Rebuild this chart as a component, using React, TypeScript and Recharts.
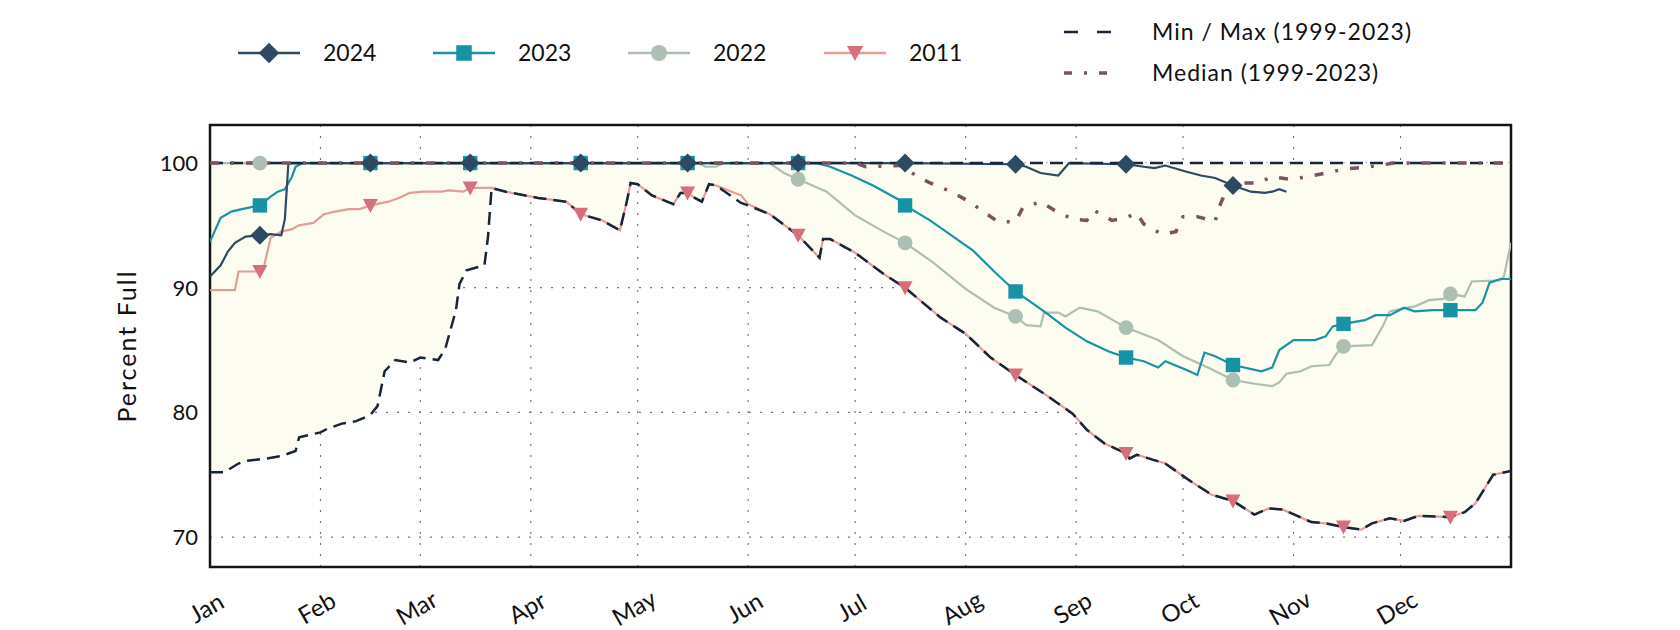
import React from 'react';
import { ComposedChart, Line, Area, XAxis, YAxis, CartesianGrid, ReferenceArea } from 'recharts';

// day-of-year (0 = Jan 1) for month starts and the mid-month marker days
const monthTicks = [0, 31, 59, 90, 120, 151, 181, 212, 243, 273, 304, 334];
const monthLabels = ['Jan', 'Feb', 'Mar', 'Apr', 'May', 'Jun', 'Jul', 'Aug', 'Sep', 'Oct', 'Nov', 'Dec'];
const markerDays = [14, 45, 73, 104, 134, 165, 195, 226, 257, 287, 318, 348];
const yTicks = [70, 80, 90, 100];

const days2024 = [0, 3, 5, 7, 10, 14, 17, 20, 21, 22, 45, 73, 104, 134, 165, 195, 226, 229, 233, 238, 241, 257, 262, 265, 268, 274, 278, 282, 287, 292, 296, 298, 300, 302];
const pct2024 = [90.9, 91.8, 92.9, 93.6, 94.1, 94.2, 94.3, 94.2, 95.5, 100, 100, 100, 100, 100, 100, 100, 99.9, 99.7, 99.2, 99.0, 100, 99.9, 99.7, 99.6, 99.8, 99.3, 99.0, 98.8, 98.2, 97.7, 97.6, 97.7, 97.9, 97.7];

const days2023 = [0, 3, 6, 9, 14, 17, 19, 21, 23, 24, 26, 45, 73, 104, 134, 165, 170, 174, 180, 186, 193, 195, 202, 208, 214, 220, 226, 234, 240, 246, 252, 257, 262, 266, 268, 274, 277, 279, 282, 287, 295, 298, 300, 304, 310, 313, 315, 318, 324, 327, 331, 335, 338, 343, 348, 355, 357, 359, 362, 365];
const pct2023 = [93.7, 95.6, 96.1, 96.3, 96.6, 97.3, 97.7, 97.9, 98.9, 99.7, 100, 100, 100, 100, 100, 100, 100, 99.7, 99.0, 98.2, 97.1, 96.6, 95.4, 94.2, 93.0, 91.3, 89.7, 88.1, 86.8, 85.7, 84.9, 84.4, 84.1, 83.6, 84.1, 83.4, 83.0, 84.8, 84.5, 83.8, 83.3, 83.6, 85.0, 85.8, 85.8, 86.1, 86.9, 87.1, 87.4, 87.8, 87.8, 88.4, 88.1, 88.2, 88.2, 88.2, 88.8, 90.4, 90.7, 90.7];

const days2022 = [0, 14, 45, 73, 104, 134, 137, 139, 142, 144, 157, 161, 165, 173, 181, 189, 195, 203, 212, 220, 226, 229, 233, 234, 238, 240, 244, 249, 257, 266, 273, 280, 287, 293, 298, 300, 302, 306, 309, 314, 316, 318, 326, 329, 331, 334, 338, 342, 346, 348, 352, 354, 362, 363, 365];
const pct2022 = [100, 100, 100, 100, 100, 100, 100, 99.7, 99.7, 100, 100, 99.2, 98.7, 97.7, 95.8, 94.5, 93.6, 92.0, 89.9, 88.4, 87.7, 87.0, 86.9, 88.0, 88.0, 87.7, 88.4, 88.1, 86.8, 85.8, 84.5, 83.6, 82.6, 82.3, 82.1, 82.4, 83.1, 83.3, 83.7, 83.8, 84.7, 85.3, 85.4, 86.9, 88.1, 88.3, 88.5, 89.0, 89.1, 89.5, 89.3, 90.5, 90.6, 90.9, 93.6];

const days2011 = [0, 7, 8, 14, 15, 17, 20, 23, 25, 29, 32, 35, 39, 42, 45, 50, 53, 56, 60, 65, 67, 71, 73, 79, 83, 92, 100, 102, 104, 110, 115, 117, 118, 120, 124, 130, 132, 134, 136, 138, 140, 142, 149, 151, 157, 165, 171, 172, 174, 181, 189, 195, 205, 212, 219, 226, 234, 242, 246, 251, 257, 258, 260, 268, 275, 281, 287, 293, 297, 301, 309, 313, 318, 323, 326, 331, 335, 339, 348, 352, 355, 360, 365];
const pct2011 = [89.8, 89.8, 91.3, 91.3, 91.5, 94.0, 94.5, 94.7, 95.0, 95.2, 95.9, 96.1, 96.3, 96.3, 96.6, 96.9, 97.2, 97.6, 97.7, 97.7, 97.8, 97.7, 98.0, 98.0, 97.7, 97.2, 96.9, 96.4, 95.9, 95.4, 94.6, 97.0, 98.4, 98.3, 97.4, 96.7, 97.6, 97.6, 97.2, 96.9, 98.3, 98.2, 97.4, 96.7, 95.9, 94.2, 92.4, 93.9, 93.9, 92.8, 91.1, 90.0, 87.6, 86.3, 84.4, 83.0, 81.5, 79.9, 78.6, 77.5, 76.7, 76.3, 76.6, 75.9, 74.5, 73.4, 72.9, 71.8, 72.3, 72.2, 71.2, 71.1, 70.8, 70.6, 71.1, 71.5, 71.3, 71.7, 71.6, 72.0, 72.7, 75.0, 75.3];

// 1999-2023 envelope
const daysMin = [0, 4, 8, 10, 16, 20, 24, 25, 28, 31, 33, 37, 41, 45, 47, 48, 49, 52, 56, 59, 64, 66, 69, 70, 72, 77, 78, 79, 83, 92, 100, 102, 104, 110, 115, 117, 118, 120, 124, 130, 132, 134, 136, 138, 140, 142, 149, 151, 157, 165, 171, 172, 174, 181, 189, 195, 205, 212, 219, 226, 234, 242, 246, 251, 257, 258, 260, 268, 275, 281, 287, 293, 297, 301, 309, 313, 318, 323, 326, 331, 335, 339, 348, 352, 355, 360, 365];
const pctMin = [75.2, 75.2, 75.9, 76.1, 76.3, 76.5, 76.9, 78.0, 78.2, 78.4, 78.7, 79.1, 79.3, 79.8, 80.5, 81.9, 83.3, 84.2, 84.0, 84.4, 84.2, 85.1, 88.2, 90.3, 91.4, 91.8, 94.1, 98.0, 97.7, 97.2, 96.9, 96.4, 95.9, 95.4, 94.6, 97.0, 98.4, 98.3, 97.4, 96.7, 97.6, 97.6, 97.2, 96.9, 98.3, 98.2, 96.8, 96.6, 95.9, 94.2, 92.4, 93.9, 93.9, 92.8, 91.1, 90.0, 87.6, 86.3, 84.4, 83.0, 81.5, 79.9, 78.6, 77.5, 76.7, 76.3, 76.6, 75.9, 74.5, 73.4, 72.9, 71.8, 72.3, 72.2, 71.2, 71.1, 70.8, 70.6, 71.1, 71.5, 71.3, 71.7, 71.6, 72.0, 72.7, 75.0, 75.3];
const daysMax = [0, 365];
const pctMax = [100, 100];

const daysMedian = [0, 181, 184, 194, 198, 202, 208, 213, 217, 221, 226, 228, 233, 237, 242, 246, 248, 253, 257, 260, 262, 267, 271, 273, 277, 282, 283, 285, 290, 294, 298, 303, 308, 313, 318, 325, 328, 332, 365];
const pctMedian = [100, 100, 99.7, 99.8, 99.0, 98.4, 97.7, 96.9, 96.1, 95.3, 95.3, 96.4, 96.9, 96.2, 95.5, 95.4, 96.2, 95.4, 95.6, 96.0, 95.1, 94.3, 94.5, 95.7, 95.7, 95.3, 96.4, 97.7, 98.4, 98.4, 98.9, 98.7, 98.9, 99.2, 99.5, 99.7, 99.8, 100, 100];

const toSeries = (days: number[], pct: number[]) => days.map((day, i) => ({ day, v: pct[i] }));

const C2024 = '#2d4a62';
const C2023 = '#1893a6';
const C2022 = '#adbfb3';
const C2011 = '#d5707a';
const C2011_LINE = '#e59c98';
const CMINMAX = '#16263a';
const CMEDIAN = '#7a5460';
const FILL = '#fcfcf1';
const FONT = 'Lato, "Open Sans", sans-serif';

type Shape = 'diamond' | 'square' | 'circle' | 'tri';

const Marker = ({ shape, x, y, color, k = 1 }: { shape: Shape; x: number; y: number; color: string; k?: number }) => {
  if (shape === 'diamond') {
    const h = 9.5 * k;
    return <polygon points={`${x},${y - h} ${x + h},${y} ${x},${y + h} ${x - h},${y}`} fill={color} />;
  }
  if (shape === 'square') return <rect x={x - 7.2 * k} y={y - 7.2 * k} width={14.4 * k} height={14.4 * k} fill={color} />;
  if (shape === 'circle') return <circle cx={x} cy={y} r={7.4 * k} fill={color} />;
  return <polygon points={`${x - 7.5 * k},${y - 6.5 * k} ${x + 7.5 * k},${y - 6.5 * k} ${x},${y + 7.5 * k}`} fill={color} />;
};

const markerDot = (shape: Shape, color: string) => (props: any) => {
  const { cx, cy, payload, index } = props;
  if (!payload || !markerDays.includes(payload.day) || cx == null) return <g key={`e${index}`} />;
  return (
    <g key={`m${index}`}>
      <Marker shape={shape} x={cx} y={cy} color={color} />
    </g>
  );
};

const MonthTick = (props: any) => {
  const { x, y, payload } = props;
  const label = monthLabels[monthTicks.indexOf(payload.value)];
  return (
    <text
      transform={`translate(${x - 4},${y + 40}) rotate(-30)`}
      textAnchor="middle"
      dominantBaseline="central"
      fontFamily={FONT}
      fontSize={24}
      fill="#111"
    >
      {label}
    </text>
  );
};

const yearLegend: { label: string; shape: Shape; color: string; line: string; x: number }[] = [
  { label: '2024', shape: 'diamond', color: C2024, line: C2024, x: 238 },
  { label: '2023', shape: 'square', color: C2023, line: C2023, x: 433 },
  { label: '2022', shape: 'circle', color: C2022, line: C2022, x: 628 },
  { label: '2011', shape: 'tri', color: C2011, line: C2011_LINE, x: 824 },
];

const Overlay = () => (
  <svg width={1680} height={630} style={{ position: 'absolute', left: 0, top: 0, pointerEvents: 'none' }}>
    {yearLegend.map((it) => (
      <g key={it.label}>
        <line x1={it.x} x2={it.x + 62} y1={53} y2={53} stroke={it.line} strokeWidth={2.5} />
        <Marker shape={it.shape} x={it.x + 31} y={53} color={it.color} k={1.08} />
        <text x={it.x + 85} y={61} fontFamily={FONT} fontSize={23} fill="#111">
          {it.label}
        </text>
      </g>
    ))}
    <line x1={1064} x2={1111} y1={32} y2={32} stroke={CMINMAX} strokeWidth={2.5} strokeDasharray="14 19" />
    <text x={1152} y={40} fontFamily={FONT} fontSize={23} fill="#111" letterSpacing={1}>
      Min / Max (1999-2023)
    </text>
    <line x1={1064} x2={1111} y1={73} y2={73} stroke={CMEDIAN} strokeWidth={3.5} strokeDasharray="8 12 3 12" />
    <text x={1152} y={81} fontFamily={FONT} fontSize={23} fill="#111" letterSpacing={1}>
      Median (1999-2023)
    </text>
    <text
      transform="translate(136,346) rotate(-90)"
      textAnchor="middle"
      fontFamily={FONT}
      fontSize={25}
      letterSpacing={2}
      fill="#111"
    >
      Percent Full
    </text>
  </svg>
);

export default function App() {
  const s2024 = toSeries(days2024, pct2024);
  const s2023 = toSeries(days2023, pct2023);
  const s2022 = toSeries(days2022, pct2022);
  const s2011 = toSeries(days2011, pct2011);
  const sMin = toSeries(daysMin, pctMin);
  const sMax = toSeries(daysMax, pctMax);
  const sMedian = toSeries(daysMedian, pctMedian);

  return (
    <div style={{ position: 'absolute', left: 0, top: 0, width: 1680, height: 630, background: '#fff' }}>
      <ComposedChart width={1680} height={630} margin={{ top: 125, right: 169, bottom: 13, left: 140 }}>
        <CartesianGrid stroke="#777" strokeWidth={1.2} strokeDasharray="2 9" />
        <XAxis
          dataKey="day"
          type="number"
          domain={[0, 365]}
          ticks={monthTicks}
          allowDataOverflow
          height={50}
          axisLine={false}
          tickLine={false}
          tickSize={0}
          tickMargin={0}
          tick={<MonthTick />}
          interval={0}
        />
        <YAxis
          type="number"
          domain={[67.6, 103.05]}
          ticks={yTicks}
          allowDataOverflow
          width={70}
          axisLine={false}
          tickLine={false}
          tickSize={0}
          tickMargin={12}
          tick={{ fill: '#111', fontSize: 22, fontFamily: FONT }}
        />
        <Area
          data={sMin}
          dataKey="v"
          baseValue={100}
          type="linear"
          stroke="none"
          fill={FILL}
          fillOpacity={1}
          isAnimationActive={false}
        />
        <Line data={s2011} dataKey="v" type="linear" stroke={C2011_LINE} strokeWidth={2.2} dot={markerDot('tri', C2011)} activeDot={false} isAnimationActive={false} />
        <Line data={s2022} dataKey="v" type="linear" stroke={C2022} strokeWidth={2.2} dot={markerDot('circle', C2022)} activeDot={false} isAnimationActive={false} />
        <Line data={s2023} dataKey="v" type="linear" stroke={C2023} strokeWidth={2.2} dot={markerDot('square', C2023)} activeDot={false} isAnimationActive={false} />
        <Line data={s2024} dataKey="v" type="linear" stroke={C2024} strokeWidth={2.2} dot={markerDot('diamond', C2024)} activeDot={false} isAnimationActive={false} />
        <Line data={sMin} dataKey="v" type="linear" stroke={CMINMAX} strokeWidth={2.5} strokeDasharray="13 7" dot={false} activeDot={false} isAnimationActive={false} />
        <Line data={sMax} dataKey="v" type="linear" stroke={CMINMAX} strokeWidth={2.5} strokeDasharray="13 7" dot={false} activeDot={false} isAnimationActive={false} />
        <Line data={sMedian} dataKey="v" type="linear" stroke={CMEDIAN} strokeWidth={3.5} strokeDasharray="9 12 3 12" dot={false} activeDot={false} isAnimationActive={false} />
        <ReferenceArea x1={0} x2={365} y1={67.6} y2={103.05} fill="none" stroke="#151515" strokeWidth={2.5} ifOverflow="visible" />
      </ComposedChart>
      <Overlay />
    </div>
  );
}
